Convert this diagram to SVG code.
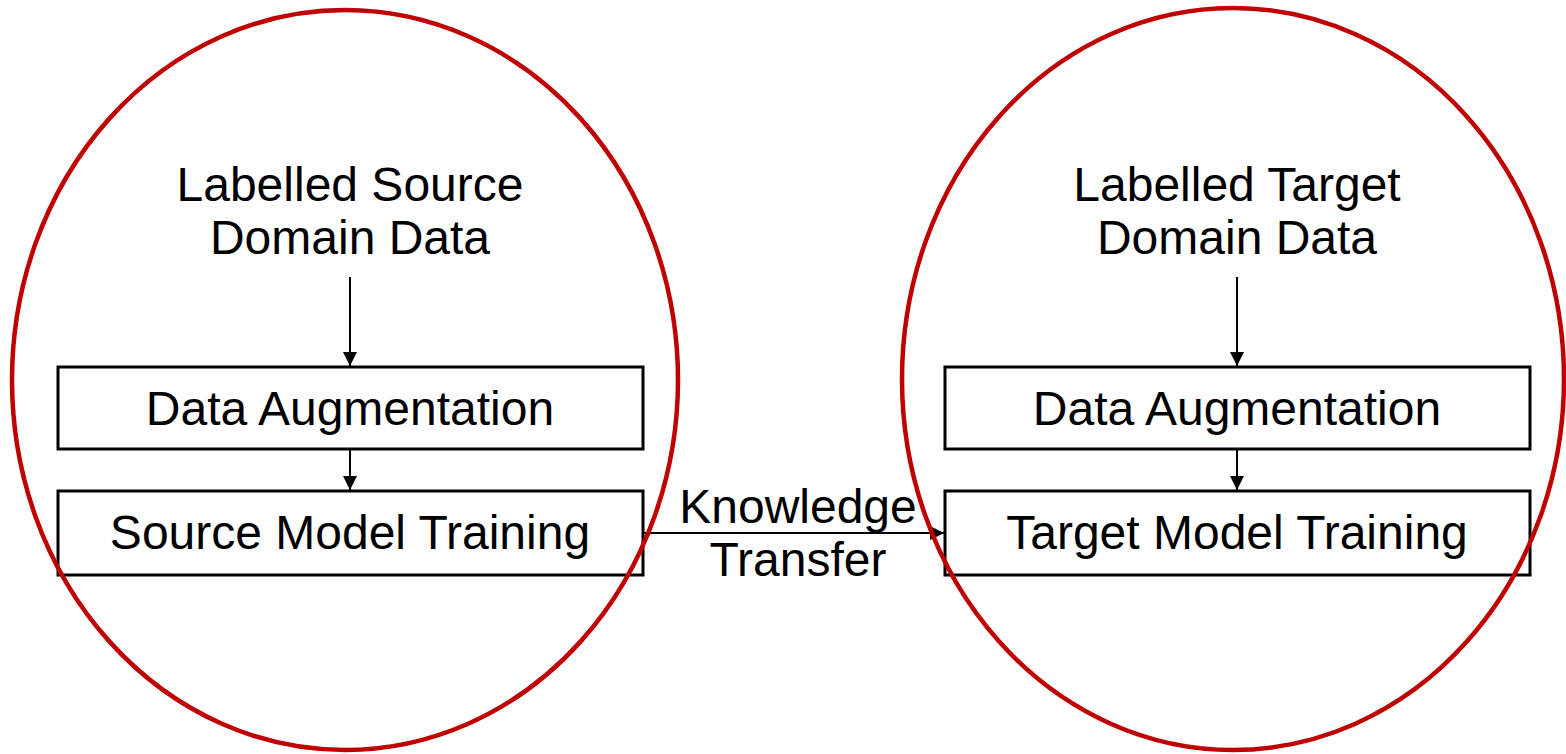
<svg xmlns="http://www.w3.org/2000/svg" width="1566" height="754" viewBox="0 0 1566 754">
  <style>
    .box { fill: #ffffff; stroke: #000000; stroke-width: 3; }
    .ring { fill: none; stroke: #C00000; stroke-width: 4.5; }
    .lbl { font-family: "Liberation Sans", Arial, sans-serif; font-size: 48px; fill: #000000; text-anchor: middle; }
    .link { stroke: #000000; stroke-width: 2; fill: none; marker-end: url(#arrow); }
  </style>
  <defs>
    <marker id="arrow" viewBox="0 0 10 10" refX="10" refY="5" markerWidth="7" markerHeight="7" markerUnits="strokeWidth" orient="auto">
      <path d="M0,0 L10,5 L0,10 Z" fill="#000000"/>
    </marker>
  </defs>
  <rect width="1566" height="754" fill="#ffffff"/>

  <!-- source side -->
  <g id="source-data">
    <text class="lbl" x="350" y="201">Labelled Source</text>
    <text class="lbl" x="350" y="254">Domain Data</text>
  </g>
  <g id="source-augmentation">
    <rect class="box" x="58" y="367" width="585" height="82"/>
    <text class="lbl" x="350" y="425">Data Augmentation</text>
  </g>
  <g id="source-training">
    <rect class="box" x="58" y="491" width="585" height="84"/>
    <text class="lbl" x="350" y="549">Source Model Training</text>
  </g>

  <!-- target side -->
  <g id="target-data">
    <text class="lbl" x="1237" y="201">Labelled Target</text>
    <text class="lbl" x="1237" y="254">Domain Data</text>
  </g>
  <g id="target-augmentation">
    <rect class="box" x="945" y="367" width="585" height="82"/>
    <text class="lbl" x="1237" y="425">Data Augmentation</text>
  </g>
  <g id="target-training">
    <rect class="box" x="945" y="491" width="585" height="84"/>
    <text class="lbl" x="1237" y="549">Target Model Training</text>
  </g>

  <!-- knowledge transfer label -->
  <g id="transfer-label">
    <text class="lbl" x="798" y="523">Knowledge</text>
    <text class="lbl" x="798" y="576">Transfer</text>
  </g>

  <!-- connectors -->
  <g id="connectors">
    <line class="link" x1="350" y1="277" x2="350" y2="366"/>
    <line class="link" x1="350" y1="450" x2="350" y2="490"/>
    <line class="link" x1="1237" y1="277" x2="1237" y2="366"/>
    <line class="link" x1="1237" y1="450" x2="1237" y2="490"/>
    <line class="link" x1="643" y1="533" x2="944" y2="533"/>
  </g>

  <!-- domain outlines -->
  <g id="source-domain">
    <ellipse class="ring" cx="345" cy="380" rx="333" ry="370"/>
  </g>
  <g id="target-domain">
    <ellipse class="ring" cx="1233" cy="379" rx="331" ry="371"/>
  </g>
</svg>
